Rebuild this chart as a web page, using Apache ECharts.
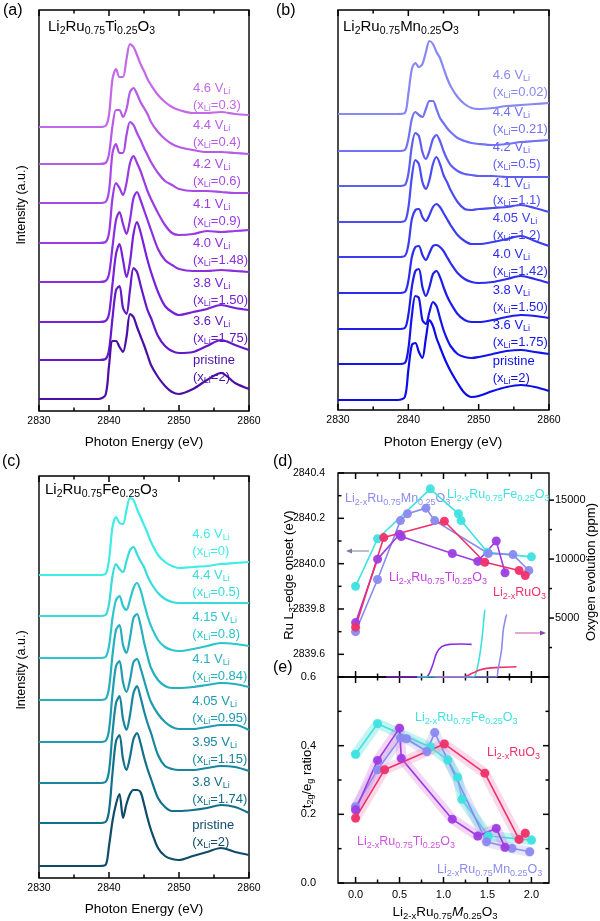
<!DOCTYPE html>
<html><head><meta charset="utf-8">
<script src="https://cdn.jsdelivr.net/npm/echarts@6/dist/echarts.min.js"></script>
<style>html,body{margin:0;padding:0;background:#fff}#c{width:600px;height:921px}</style>
</head><body><div id="c"></div>
<script>
// ---------- DATA ----------
// shared photon-energy sampling (eV)
const E = [2830, 2838.5, 2839.5, 2840, 2840.5, 2841, 2841.5, 2842, 2842.5, 2843, 2843.5, 2844, 2844.5, 2845, 2845.5, 2846, 2847, 2848, 2849, 2850, 2852, 2854, 2856, 2858, 2860];

// (a) Li2Ru0.75Ti0.25O3 spectra (intensity above own baseline, a.u.)
const a46 = [0,0,1,12,48,58,50,50,68,83,80,72,63,56,48,42,32,25,20,17,14,14,15,13,12];
const a44 = [0,0,1,10,38,54,54,47,55,72,76,70,62,56,50,42,32,25,20,17,14,12,12,11,10];
const a42 = [0,0,1,12,50,59,50,50,68,81,78,70,63,55,48,41,30,22,18,14,12,12,11,10,10];
const a41 = [0,0,1,10,45,60,55,48,60,80,87,80,72,62,52,44,30,18,10,8,9,12,11,12,13];
const a40 = [0,0,1,8,35,62,70,58,48,62,84,90,82,72,62,52,33,22,17,13,11,11,12,11,10];
const a38 = [0,0,1,8,38,68,78,62,45,60,88,100,90,76,62,50,30,16,10,7,10,13,17,14,12];
const a36 = [0,0,1,10,42,70,74,52,46,70,92,88,75,62,50,42,24,14,9,7,8,14,20,15,10];
const aP  = [0,0,4,33,58,58,52,47,62,85,82,72,63,54,44,34,22,13,7,5,10,19,26,16,10];
const offsetA = [284,247,208,168,129,89,51,12];
const voltA = ['4.6','4.4','4.2','4.1','4.0','3.8','3.6','pristine'];
const xLiA  = ['0.3','0.4','0.6','0.9','1.48','1.50','1.75','2'];

// (b) Li2Ru0.75Mn0.25O3 spectra
const b46  = [0,0,1,20,45,51,47,50,62,73,70,62,56,46,36,28,17,10,6,5,6,8,9,10,11];
const b44  = [0,0,1,12,32,39,36,34,42,50,50,42,33,28,23,19,13,10,8,7,6,7,9,10,11];
const b42  = [0,0,1,12,40,53,50,34,27,35,47,51,45,35,27,21,15,12,11,10,10,9,9,9,9];
const b41  = [0,0,1,14,45,62,58,40,33,42,58,65,58,47,40,32,20,13,12,13,14,15,17,14,10];
const b405 = [0,0,1,12,38,47,48,40,36,42,50,53,50,44,38,32,22,16,13,13,15,18,21,16,11];
const b40  = [0,0,1,12,36,46,47,38,33,40,47,48,46,42,36,30,20,14,11,10,11,14,17,14,10];
const b38  = [0,0,1,14,42,58,60,42,33,42,55,58,52,42,33,26,15,9,7,7,9,12,14,13,11];
const b36  = [0,0,1,15,48,68,66,44,40,52,62,58,46,34,25,18,10,7,6,7,10,13,14,12,10];
const bP   = [0,0,3,30,55,57,48,42,62,80,74,62,53,44,36,29,17,7,3,4,9,13,15,13,9];
const offsetB = [296,259,224,188,153,117,81,46,10];
const voltB = ['4.6','4.4','4.2','4.1','4.05','4.0','3.8','3.6','pristine'];
const xLiB  = ['0.02','0.21','0.5','1.1','1.2','1.42','1.50','1.75','2'];

// (c) Li2Ru0.75Fe0.25O3 spectra
const c46  = [0,0,1,15,48,58,52,51,65,77,75,66,58,50,42,33,20,13,9,7,8,9,11,12,13];
const c44  = [0,0,1,12,40,52,47,44,55,66,69,62,55,49,40,33,23,17,14,13,13,13,13,13,13];
const c415 = [0,0,1,12,40,58,62,52,48,58,70,75,68,55,42,32,18,11,8,7,9,12,15,14,12];
const c41  = [0,0,1,12,45,70,75,55,47,62,82,86,75,58,44,32,20,14,12,12,13,15,17,16,13];
const c405 = [0,0,1,12,48,76,81,60,50,62,80,83,74,62,50,40,28,20,15,13,13,15,17,17,12];
const c395 = [0,0,1,12,50,80,87,64,53,68,90,97,86,72,60,50,28,17,14,13,13,15,17,16,12];
const c38  = [0,0,1,12,50,82,88,64,53,66,84,90,80,66,54,44,25,16,12,12,13,15,18,16,10];
const cP   = [0,0,1,20,45,62,72,48,62,72,76,76,74,62,48,36,18,10,7,6,10,14,18,14,11];
const offsetC = [303,262,220,178,136,95,55,12];
const voltC = ['4.6','4.4','4.15','4.1','4.05','3.95','3.8','pristine'];
const xLiC  = ['0','0.5','0.8','0.84','0.95','1.15','1.74','2'];

// (d) Ru L3-edge onset (eV) vs x
const dFeX = [0, 0.25, 0.85, 1.17, 1.2, 1.5, 2.0];
const dFeY = [2839.90, 2840.11, 2840.33, 2840.22, 2840.19, 2840.05, 2840.03];
const dMnX = [0, 0.25, 0.51, 0.59, 0.8, 0.9, 1.51, 1.79, 1.97];
const dMnY = [2839.70, 2839.93, 2840.19, 2840.22, 2840.245, 2840.19, 2840.045, 2840.04, 2839.97];
const dTiX = [0, 0.25, 0.5, 0.52, 1.1, 1.39, 1.6, 1.7];
const dTiY = [2839.74, 2840.02, 2840.13, 2840.12, 2840.045, 2840.01, 2840.10, 2839.96];
const dRuX = [0, 0.32, 1.01, 1.47, 1.86, 1.93];
const dRuY = [2839.72, 2840.115, 2840.187, 2840.006, 2839.97, 2839.948];
// (d) oxygen evolution (ppm) vs x
const oTiX = [0.35, 0.8, 0.87, 0.92, 0.98, 1.07, 1.2, 1.32];
const oTiY = [0, 0, 870, 2000, 2570, 2770, 2800, 2770];
const oFeX = [0.7, 1.34, 1.375, 1.41, 1.44, 1.46, 1.47];
const oFeY = [0, 0, 450, 1720, 3420, 4970, 5700];
const oRuX = [0.9, 1.22, 1.34, 1.41, 1.49, 1.64, 1.83];
const oRuY = [0, 0, 360, 590, 730, 820, 870];
const oMnX = [0.9, 1.6, 1.62, 1.66, 1.68, 1.71, 1.72];
const oMnY = [0, 0, 600, 2290, 3980, 5110, 5300];

// (e) t2g/eg ratio vs x
const eFeX = [0, 0.25, 0.85, 1.05, 1.16, 1.21, 1.51, 2.0];
const eFeY = [0.375, 0.464, 0.396, 0.358, 0.308, 0.244, 0.137, 0.125];
const eTiX = [0, 0.25, 0.5, 0.52, 1.1, 1.39, 1.6, 1.7];
const eTiY = [0.213, 0.357, 0.451, 0.363, 0.186, 0.137, 0.159, 0.104];
const eMnX = [0, 0.25, 0.51, 0.58, 0.81, 0.9, 1.49, 1.78, 1.98];
const eMnY = [0.222, 0.33, 0.422, 0.42, 0.383, 0.438, 0.12, 0.101, 0.091];
const eRuX = [0, 0.33, 1.01, 1.47, 1.86, 1.93];
const eRuY = [0.189, 0.33, 0.405, 0.32, 0.127, 0.145];

// tick values
const energyTicks = [2830, 2840, 2850, 2860];
const energyMinor = [2835, 2845, 2855];
const xTicksDE = [0, 0.5, 1.0, 1.5, 2.0];
const xMinorDE = [0.25, 0.75, 1.25, 1.75];
const onsetTicks = [2839.6, 2839.8, 2840.0, 2840.2, 2840.4];
const onsetMinor = [2839.7, 2839.9, 2840.1, 2840.3];
const oxyTicks = [5000, 10000, 15000];
const oxyMinor = [2500, 7500, 12500];
const ratioTicks = [0, 0.2, 0.4, 0.6];
const ratioMinor = [0.1, 0.3, 0.5];

// ---------- STYLE / LAYOUT ----------
const FONT = 'Liberation Sans, Arial, Helvetica, sans-serif';
const colorsA = ['#c468ea','#b85ae8','#a94ae6','#9a3ae4','#8a2ee0','#7722d8','#6418c8','#4c0fa6'];
const colorsB = ['#8888f4','#7272f4','#5e5ef2','#4c4cf2','#3c3cf0','#2c2cee','#1e1eec','#1414ea','#0c0ce8'];
const colorsC = ['#40ece6','#38dcdc','#2ec6cc','#26b0be','#1f9cb0','#18879e','#13708a','#0e4c6a'];
const cFe = '#3ee2e0', cMn = '#8a8af0', cTi = '#9d3de0', cRu = '#f0306a';

const G = [
  {left:39,  top:10,  width:210, height:401},
  {left:338, top:10,  width:211, height:400},
  {left:39,  top:476, width:210, height:402},
  {left:338, top:473, width:211, height:204},
  {left:338, top:677, width:211, height:206}
];
const MAJ = 6, MIN = 3.5;
const plain = v => String(v);
const f1 = v => Number(v).toFixed(1);
const noLine = {show:false, onZero:false};
function labelled(extra) {
  return Object.assign({show:true, color:'#000', fontSize:11, fontFamily:FONT}, extra);
}
const energyAxis = g => ({type:'value', gridIndex:g, position:'bottom', min:2830, max:2860, interval:10,
  axisLine:noLine, axisTick:{show:false}, splitLine:{show:false},
  axisLabel:labelled({fontSize:10.5, margin:5, formatter:plain})});

const xAxis = [
  energyAxis(0), energyAxis(1), energyAxis(2),                                      // 0,1,2
  {type:'value', gridIndex:3, position:'bottom', min:-0.2, max:2.2,                  // 3
    axisLine:noLine, axisTick:{show:false}, splitLine:{show:false}, axisLabel:{show:false}},
  {type:'value', gridIndex:4, position:'bottom', min:-0.2, max:2.2,                  // 4
    axisLine:noLine, axisTick:{show:false}, splitLine:{show:false},
    axisLabel:labelled({customValues:xTicksDE, formatter:f1, margin:6})}
];
const yAxis = [
  {type:'value', gridIndex:0, min:0, max:G[0].height, show:false},                   // 0
  {type:'value', gridIndex:1, min:0, max:G[1].height, show:false},                   // 1
  {type:'value', gridIndex:2, min:0, max:G[2].height, show:false},                   // 2
  {type:'value', gridIndex:3, position:'left', min:2839.5, max:2840.4,                // 3
    axisLine:noLine, axisTick:{show:false}, splitLine:{show:false},
    axisLabel:labelled({customValues:onsetTicks, formatter:f1, margin:13, fontSize:10.5})},
  {type:'value', gridIndex:3, position:'right', min:0, max:17300,                     // 4
    axisLine:noLine, axisTick:{show:false}, splitLine:{show:false},
    axisLabel:labelled({customValues:oxyTicks, formatter:plain, margin:6})},
  {type:'value', gridIndex:4, position:'left', min:0, max:0.6, interval:0.2,          // 5
    axisLine:noLine, axisTick:{show:false}, splitLine:{show:false},
    axisLabel:labelled({formatter:f1, margin:22})}
];

// ---------- SERIES ----------
const series = [];
function spectra(xi, yi, offs, specs, colors) {
  specs.forEach((h, i) => series.push({type:'line', xAxisIndex:xi, yAxisIndex:yi, silent:true,
    data:E.map((e, j) => [e, offs[i] + h[j]]), smooth:0.3, symbol:'none',
    lineStyle:{width:2.2, color:colors[i]}}));
}
spectra(0, 0, offsetA, [a46,a44,a42,a41,a40,a38,a36,aP], colorsA);
spectra(1, 1, offsetB, [b46,b44,b42,b41,b405,b40,b38,b36,bP], colorsB);
spectra(2, 2, offsetC, [c46,c44,c415,c41,c405,c395,c38,cP], colorsC);

const zip = (xs, ys) => xs.map((x, i) => [x, ys[i]]);
function oxy(xs, ys, color) {
  series.push({type:'line', xAxisIndex:3, yAxisIndex:4, silent:true, data:zip(xs, ys),
    smooth:0.3, symbol:'none', lineStyle:{width:1.6, color}});
}
oxy(oTiX, oTiY, '#8a2be2'); oxy(oFeX, oFeY, cFe); oxy(oRuX, oRuY, cRu); oxy(oMnX, oMnY, cMn);

function marks(xi, yi, xs, ys, color, band) {
  if (band) series.push({type:'line', xAxisIndex:xi, yAxisIndex:yi, silent:true, data:zip(xs, ys),
    symbol:'none', lineStyle:{width:10, color:band, cap:'round', join:'round'}});
  series.push({type:'line', xAxisIndex:xi, yAxisIndex:yi, silent:true, data:zip(xs, ys),
    symbol:'circle', symbolSize:9, itemStyle:{color, opacity:0.95},
    lineStyle:{width:1.6, color}});
}
marks(3, 3, dFeX, dFeY, cFe);
marks(3, 3, dMnX, dMnY, cMn);
marks(3, 3, dTiX, dTiY, cTi);
marks(3, 3, dRuX, dRuY, cRu);

marks(4, 5, eFeX, eFeY, cFe, 'rgba(80,225,215,0.35)');
marks(4, 5, eMnX, eMnY, cMn, 'rgba(150,150,240,0.25)');
marks(4, 5, eTiX, eTiY, cTi, 'rgba(215,120,225,0.3)');
marks(4, 5, eRuX, eRuY, cRu, 'rgba(240,130,190,0.3)');

// ---------- TEXT ----------
const els = [];
function T(x, y, text, o) {
  o = o || {};
  const size = o.size || 13, color = o.color || '#000';
  const sub = o.sub || Math.round(size * 0.7 * 2) / 2;
  els.push({type:'text', x, y, rotation:o.rot || 0, silent:true,
    style:{text, fill:color, fontSize:size, fontFamily:FONT,
      align:o.align || 'left', verticalAlign:'middle', textAlign:o.align || 'left', textVerticalAlign:'middle',
      rich:{
        s:{fontSize:sub, fill:color, fontFamily:FONT, padding:[Math.round(size * 0.62), 0, 0, 0]},
        i:{fontSize:size, fill:color, fontFamily:FONT, fontStyle:'italic'}
      }}});
}
function specLabels(g, volts, xli, offs, colors, xE, dy) {
  const gg = G[g];
  const px = gg.left + (xE - 2830) / 30 * gg.width;
  volts.forEach((v, i) => {
    const py = gg.top + gg.height - (offs[i] + dy);
    T(px, py - 17, v === 'pristine' ? 'pristine' : v + ' V{s|Li}', {size:13, sub:9, color:colors[i]});
    T(px, py, '(x{s|Li}=' + xli[i] + ')', {size:13, sub:9, color:colors[i]});
  });
}
specLabels(0, voltA, xLiA, offsetA, colorsA, 2852, 22);
specLabels(1, voltB, xLiB, offsetB, colorsB, 2852, 22);
specLabels(2, voltC, xLiC, offsetC, colorsC, 2851.9, 24);

const R90 = Math.PI / 2;
T(3, 11, '(a)', {size:16}); T(276, 11, '(b)', {size:16});
T(2, 462, '(c)', {size:16}); T(273, 462, '(d)', {size:16}); T(273, 668, '(e)', {size:16});
T(48, 27, 'Li{s|2}Ru{s|0.75}Ti{s|0.25}O{s|3}', {size:15, sub:10.5});
T(343, 27, 'Li{s|2}Ru{s|0.75}Mn{s|0.25}O{s|3}', {size:15, sub:10.5});
T(45, 490, 'Li{s|2}Ru{s|0.75}Fe{s|0.25}O{s|3}', {size:15, sub:10.5});
T(144, 442, 'Photon Energy (eV)', {size:13.5, align:'center'});
T(443, 442, 'Photon Energy (eV)', {size:13.5, align:'center'});
T(144, 909, 'Photon Energy (eV)', {size:13.5, align:'center'});
T(22, 205, 'Intensity (a.u.)', {size:12.5, align:'center', rot:R90});
T(22, 670, 'Intensity (a.u.)', {size:12.5, align:'center', rot:R90});
T(289, 575, 'Ru L{s|3}-edge onset (eV)', {size:13, align:'center', rot:R90});
T(591, 572, 'Oxygen evolution (ppm)', {size:13, align:'center', rot:R90});
T(307, 779, 't{s|2g}/e{s|g} ratio', {size:13, align:'center', rot:R90});
T(445, 912, 'Li{s|2-x}Ru{s|0.75}{i|M}{s|0.25}O{s|3}', {size:13.5, align:'center'});

T(345, 499, 'Li{s|2-x}Ru{s|0.75}Mn{s|0.25}O{s|3}', {size:12.5, sub:9, color:cMn});
T(447, 495, 'Li{s|2-x}Ru{s|0.75}Fe{s|0.25}O{s|3}', {size:12.5, sub:9, color:cFe});
T(389, 578, 'Li{s|2-x}Ru{s|0.75}Ti{s|0.25}O{s|3}', {size:12.5, sub:9, color:'#c040e0'});
T(493, 593, 'Li{s|2-x}RuO{s|3}', {size:12.5, sub:9, color:cRu});
T(415, 718, 'Li{s|2-x}Ru{s|0.75}Fe{s|0.25}O{s|3}', {size:12.5, sub:9, color:cFe});
T(487, 753, 'Li{s|2-x}RuO{s|3}', {size:12.5, sub:9, color:cRu});
T(357, 842, 'Li{s|2-x}Ru{s|0.75}Ti{s|0.25}O{s|3}', {size:12.5, sub:9, color:'#cc55dd'});
T(437, 870, 'Li{s|2-x}Ru{s|0.75}Mn{s|0.25}O{s|3}', {size:12.5, sub:9, color:cMn});

// axis-pointing arrows in (d)
els.push({type:'line', silent:true, shape:{x1:369, y1:551, x2:351, y2:551}, style:{stroke:'#7a7a9a', lineWidth:1}});
els.push({type:'polygon', silent:true, shape:{points:[[346,551],[352,548.5],[352,553.5]]}, style:{fill:'#7a7a9a'}});
els.push({type:'line', silent:true, shape:{x1:515, y1:633, x2:540, y2:633}, style:{stroke:'#c050b0', lineWidth:1}});
els.push({type:'polygon', silent:true, shape:{points:[[546,633],[540,630.5],[540,635.5]]}, style:{fill:'#8050b0'}});

// tick marks: mapped linearly with each axis's min/max onto its grid
function tk(x1, y1, x2, y2) {
  els.push({type:'line', silent:true, shape:{x1, y1, x2, y2}, style:{stroke:'#000', lineWidth:1.5}});
}
function xTicks(ax, values, len) {
  const gg = G[ax.gridIndex], yb = gg.top + gg.height, yt = gg.top;
  values.forEach(v => {
    const p = gg.left + (v - ax.min) / (ax.max - ax.min) * gg.width;
    tk(p, yb, p, yb - len); tk(p, yt, p, yt + len);
  });
}
function yTicks(ax, values, len, side, outward) {
  const gg = G[ax.gridIndex];
  values.forEach(v => {
    const p = gg.top + gg.height - (v - ax.min) / (ax.max - ax.min) * gg.height;
    if (side === 'left') tk(gg.left, p, gg.left + len, p);
    else { const xr = gg.left + gg.width; tk(xr, p, outward ? xr + len : xr - len, p); }
  });
}
[0, 1, 2].forEach(i => { xTicks(xAxis[i], energyTicks, MAJ); xTicks(xAxis[i], energyMinor, MIN); });
xTicks(xAxis[3], xTicksDE, MAJ); xTicks(xAxis[3], xMinorDE, MIN);
xTicks(xAxis[4], xTicksDE, MAJ); xTicks(xAxis[4], xMinorDE, MIN);
yTicks(yAxis[3], onsetTicks, MAJ, 'left'); yTicks(yAxis[3], onsetMinor, MIN, 'left');
yTicks(yAxis[4], oxyTicks, 5, 'right', true); yTicks(yAxis[4], oxyMinor, 3, 'right', true);
yTicks(yAxis[5], ratioTicks, MAJ, 'left'); yTicks(yAxis[5], ratioMinor, MIN, 'left');
yTicks(yAxis[5], ratioTicks, MAJ, 'right', false); yTicks(yAxis[5], ratioMinor, MIN, 'right', false);

// ---------- CHART ----------
const chart = echarts.init(document.getElementById('c'));
chart.setOption({
  animation:false,
  backgroundColor:'#fff',
  grid:G.map(g => Object.assign({show:true, borderColor:'#000', borderWidth:1.4, backgroundColor:'transparent'}, g)),
  xAxis, yAxis, series,
  graphic:{elements:els}
});
</script></body></html>
